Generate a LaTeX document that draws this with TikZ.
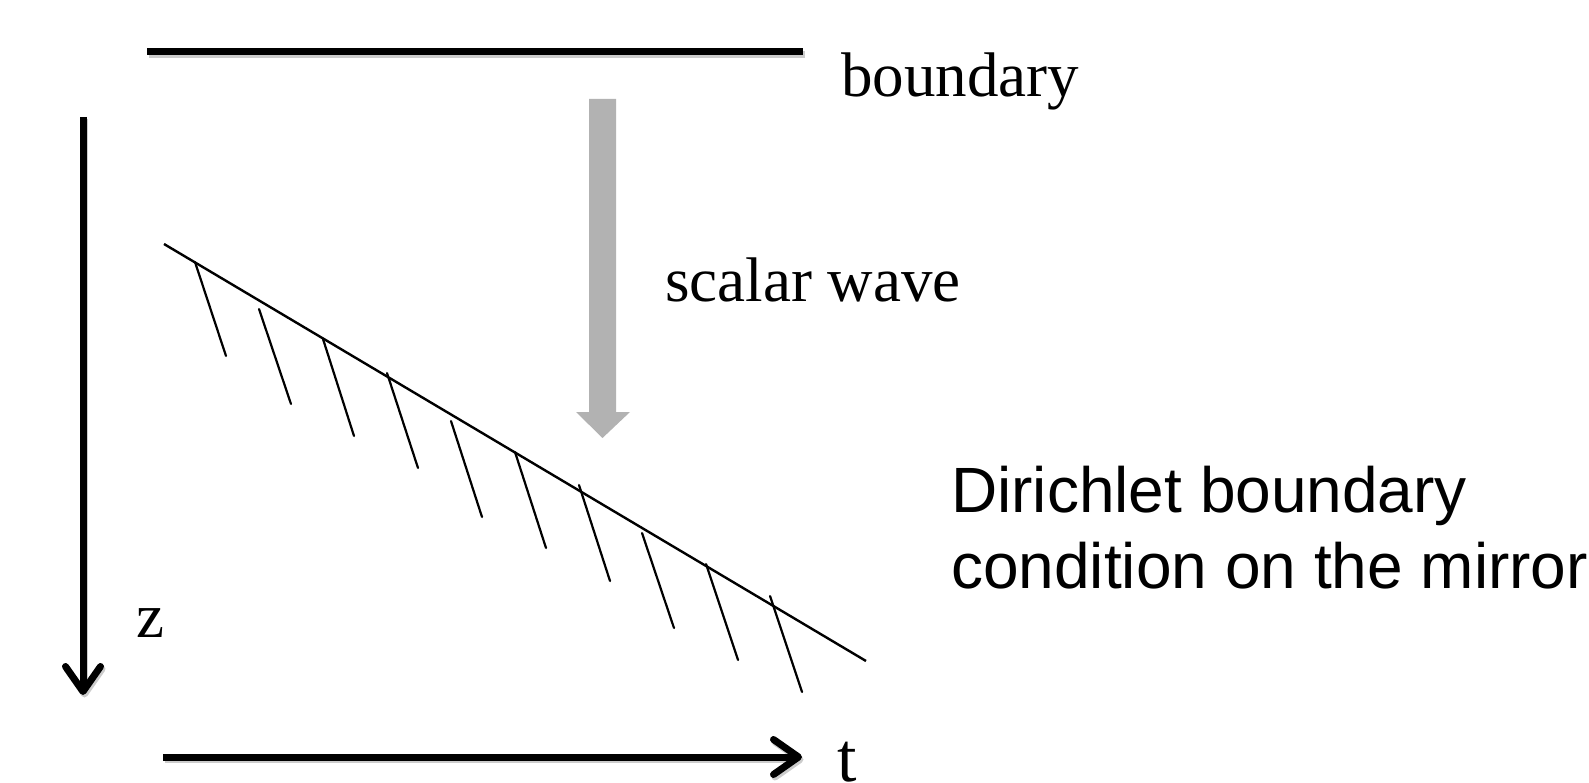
\documentclass[tikz,border=0pt]{standalone}
\usepackage{fontspec}
\setmainfont{Liberation Serif}
\newfontfamily\arialfont{Liberation Sans}
\usetikzlibrary{arrows.meta, positioning}

\begin{document}
\begin{tikzpicture}[
		x=1pt, y=-1pt,
		% Thick black lines with a light drop shadow
		heavyline/.style={
			line width=7pt,
			black,
			preaction={draw=black!20, line width=7pt,
				transform canvas={shift={(1.5pt,-2.5pt)}}}
		},
		% Axis arrows
		axisarrow/.style={
			heavyline,
			-{Straight Barb[length=25pt, width=35pt, line width=7pt, round]}
		},
		% Mirror and its hatching
		mirror/.style={line width=2.4pt, black},
		hatch/.style={line width=2.2pt, black, line cap=round},
		% Labels
		seriflabel/.style={font=\fontsize{63}{72}\selectfont, inner sep=0pt, anchor=base west},
		sanslabel/.style={font=\arialfont\fontsize{64}{76}\selectfont, inner sep=0pt, anchor=base west}
		]
		\useasboundingbox (0,0) rectangle (1589,783);
		
		% --- BOUNDARY ---
		\coordinate (b1) at (147,52);
		\coordinate (b2) at (803,52);
		\draw[heavyline] (b1) -- (b2);
		\node[seriflabel] (bnd) at (841,97) {boundary};
		
		% --- AXES ---
		\coordinate (z0) at (83,117);
		\coordinate (z1) at (83,695);
		\draw[axisarrow] (z0) -- (z1);
		\node[seriflabel] (zlab) at (136,637) {z};
		
		\coordinate (t0) at (163,757);
		\coordinate (t1) at (802,757);
		\draw[axisarrow] (t0) -- (t1);
		\node[seriflabel, font=\fontsize{70}{80}\selectfont] (tlab) at (837,781) {t};
		
		% --- SCALAR WAVE ---
		\fill[black!30] (589,99) -- (616,99) -- (616,412) -- (630,412)
		-- (602.5,438) -- (576,412) -- (589,412) -- cycle;
		\node[seriflabel] (wave) at (665,302) {scalar wave};
		
		% --- MIRROR ---
		\coordinate (m1) at (164,244);
		\coordinate (m2) at (866,661);
		\draw[mirror] (m1) -- (m2);
		\foreach \xa/\ya/\xb/\yb in {195/262/226/356, 259/309/291/404, 323/339/354/436,
			387/373/418/468, 451/421/482/517, 515/452/546/548, 579/485/610/581,
			642/533/674/628, 706/564/738/660, 770/596/802/692}
		\draw[hatch] (\xa,\ya) -- (\xb,\yb);
		
		% --- COMMENT ON THE RIGHT ---
		\node[sanslabel] (dir1) at (951,512) {Dirichlet boundary};
		\node[sanslabel] (dir2) at (951,588) {condition on the mirror};
		
	\end{tikzpicture}
\end{document}
